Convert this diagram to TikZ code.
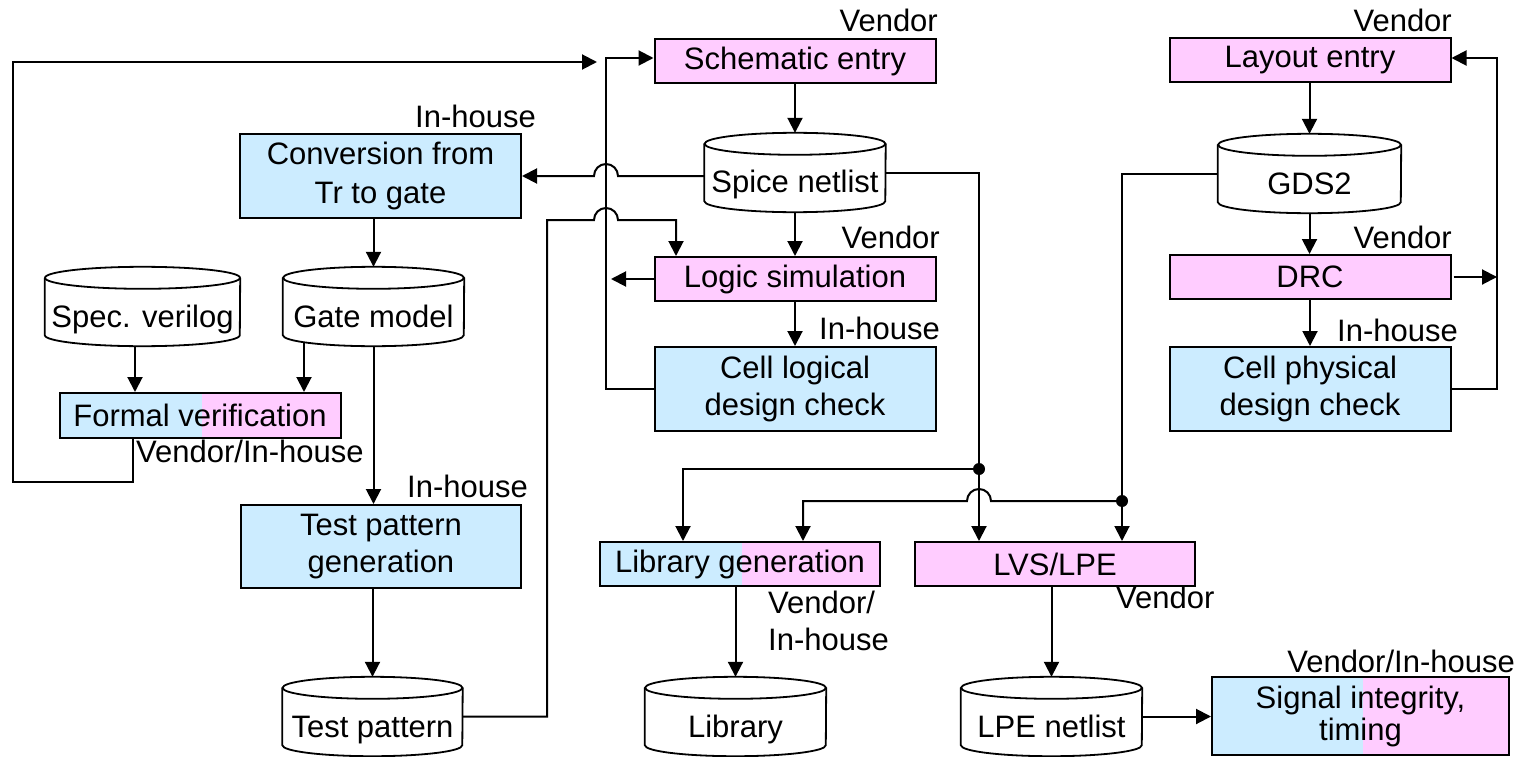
\documentclass[tikz,border=0pt]{standalone}
\usepackage{fontspec}
\setmainfont{Liberation Sans}
\usetikzlibrary{arrows.meta,calc}
\definecolor{inhouse}{HTML}{CCECFF}
\definecolor{vendor}{HTML}{FFCCFF}

% database drum: name, centre x, centre y, width, text
\newcommand\drum[5]{%
  \node[drumtext, minimum width=#4pt] (#1) at (#2,#3) {#5};
  \draw[drumline] ($(#1.north west)+(0,-11)$) -- ($(#1.south west)+(0,11)$)
    arc[start angle=180,end angle=360,x radius=#4pt/2,y radius=11pt]
    -- ($(#1.north east)+(0,-11)$);
  \draw[drumline] ($(#1.north)+(0,-11)$) ellipse[x radius=#4pt/2,y radius=11pt];
}

\tikzset{
  link/.style={line width=2pt},
  arr/.style={link,-{Triangle[length=15pt,width=15pt]}},
  box/.style={draw,line width=2pt,inner sep=0pt,align=center,minimum width=281pt},
  vend/.style={box,fill=vendor},
  inh/.style={box,fill=inhouse},
  mixed/.style={box,path picture={
      \fill[inhouse] (path picture bounding box.south west) rectangle ([xshift=2pt]path picture bounding box.north);
      \fill[vendor] ([xshift=2pt]path picture bounding box.south) rectangle (path picture bounding box.north east);}},
  tag/.style={inner sep=0pt},
  drumtext/.style={inner sep=0pt,minimum height=79pt,text height=48pt,text depth=7pt},
  drumline/.style={line width=1.8pt},
}

\begin{document}
\begin{tikzpicture}[x=1pt,y=1pt,font=\fontsize{31}{37}\selectfont]
\useasboundingbox (0,0) rectangle (1526,-757);

% process boxes
\node[vend,minimum height=44pt] (schem) at (795,-61) {Schematic entry};
\node[tag,anchor=base east] (tSchem) at (938,-32) {Vendor};
\node[vend,minimum height=44pt] (layout) at (1310,-60) {Layout entry};
\node[tag,anchor=base east] (tLayout) at (1452,-32) {Vendor};
\node[inh,minimum height=84pt,font=\fontsize{31}{39}\selectfont] (conv) at (380.5,-176) {Conversion from\\Tr to gate};
\node[tag,anchor=base east] (tConv) at (536,-128) {In-house};
\node[vend,minimum height=44pt] (logic) at (795,-279) {Logic simulation};
\node[tag,anchor=base east] (tLogic) at (940,-248) {Vendor};
\node[inh,minimum height=84pt] (cellL) at (795,-389) {Cell logical\\design check};
\node[tag,anchor=base east] (tCellL) at (940,-339) {In-house};
\node[vend,minimum height=44pt] (drc) at (1310,-277) {DRC};
\node[tag,anchor=base east] (tDrc) at (1452,-248) {Vendor};
\node[inh,minimum height=84pt] (cellP) at (1310,-389) {Cell physical\\design check};
\node[tag,anchor=base east] (tCellP) at (1458,-341) {In-house};
\node[mixed,minimum height=45pt] (formal) at (200,-415.5) {Formal verification};
\node[tag,anchor=base west] (tFormal) at (136,-462) {Vendor/In-house};
\node[inh,minimum width=280pt,minimum height=83pt] (tpg) at (381,-546.5) {Test pattern\\generation};
\node[tag,anchor=base east] (tTpg) at (528,-497) {In-house};
\node[mixed,minimum width=280pt,minimum height=44pt] (libgen) at (740,-564) {Library generation};
\node[tag,anchor=base west] (tLibA) at (768,-613) {Vendor/};
\node[tag,anchor=base west] (tLibB) at (768,-650) {In-house};
\node[vend,minimum width=280pt,minimum height=44pt] (lvs) at (1055,-564) {LVS/LPE};
\node[tag,anchor=base west] (tLvs) at (1116,-608) {Vendor};
\node[mixed,minimum width=297pt,minimum height=78pt,font=\fontsize{31}{32}\selectfont] (sig) at (1360.5,-716) {Signal integrity,\\timing};
\node[tag,anchor=base east] (tSig) at (1515,-672) {Vendor/In-house};

% data stores
\drum{spice}{795}{-172.5}{181}{Spice netlist}
\drum{gds}{1309.5}{-173.5}{183}{GDS2}
\drum{spec}{142.5}{-306.5}{195}{Spec. verilog}
\drum{gate}{373.5}{-306.5}{181}{Gate model}
\drum{tp}{372.5}{-716.5}{180}{Test pattern}
\drum{lib}{735.5}{-716.5}{181}{Library}
\drum{lpe}{1051.5}{-716.5}{181}{LPE netlist}

% routing points
\coordinate (busTop) at (606,-58);
\coordinate (loopTip) at (597,-62);
\coordinate (loopBL) at (13,-482);
\coordinate (logicTip) at (611,-279);
\coordinate (tpUp) at (547,-220);
\coordinate (busR) at (1497,-58);
\coordinate (j1) at (979,-469);
\coordinate (j2) at (1122,-501);
\coordinate (gA) at ($(gate.south)+(-69.5,4)$);
\coordinate (sA) at ($(spec.south)+(-7.5,0)$);
\coordinate (fA) at ($(formal.south west)+(74.5,0)$);

% straight flows
\draw[arr] (schem.south) -- (spice.north);
\draw[arr] (spice.south) -- (logic.north);
\draw[arr] (logic.south) -- (cellL.north);
\draw[arr] (gds.north |- layout.south) -- (gds.north);
\draw[arr] (gds.south) -- (gds.south |- drc.north);
\draw[arr] (drc.south) -- (cellP.north);
\draw[arr] (gate.north |- conv.south) -- (gate.north);
\draw[arr] (sA) -- (sA |- formal.north);
\draw[arr] (gA) -- (gA |- formal.north);
\draw[arr] (gate.south) -- (gate.south |- tpg.north);
\draw[arr] (tp.north |- tpg.south) -- (tp.north);
\draw[arr] (lib.north |- libgen.south) -- (lib.north);
\draw[arr] (lpe.north |- lvs.south) -- (lpe.north);
\draw[arr] (lpe.east) -- (lpe.east -| sig.west);

% feedback loops
\draw[arr] (cellL.west) -| (busTop) -- (busTop -| schem.west);
\draw[arr] (logic.west) -- (logicTip);
\draw[arr] (fA) |- (loopBL) |- (loopTip);
\draw[arr] ([xshift=2pt]drc.east) -- (drc.east -| busR);
\draw[arr] (cellP.east) -| (busR) -- (busR -| layout.east);

% crossings with hops
\draw[arr] (spice.west |- conv.east) -- ($(busTop |- conv.east)+(12,0)$)
  arc[start angle=0,end angle=180,radius=12pt] -- (conv.east);
\draw[arr] (tp.east) -| (tpUp) -- ($(busTop |- tpUp)+(-12,0)$)
  arc[start angle=180,end angle=0,radius=12pt] -| ($(logic.north west)+(22.5,0)$);

% netlist and layout feeds to LVS and library generation
\draw[arr] (spice.east) -| (j1) -- (j1 |- lvs.north);
\draw[arr] (j1) -| ($(libgen.north west)+(84,0)$);
\draw[arr] (gds.west) -| (j2) -- (j2 |- lvs.north);
\draw[arr] (j2) -- ($(j1 |- j2)+(12,0)$)
  arc[start angle=0,end angle=180,radius=12pt] -| ($(libgen.north west)+(204,0)$);
\fill (j1) circle[radius=6pt];
\fill (j2) circle[radius=6pt];
\end{tikzpicture}
\end{document}
